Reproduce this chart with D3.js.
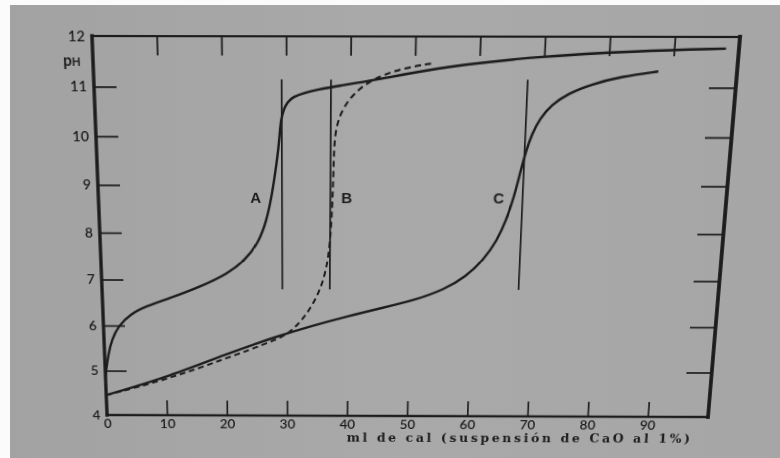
<!DOCTYPE html>
<html>
<head>
<meta charset="utf-8">
<script src="https://cdn.jsdelivr.net/npm/d3@7/dist/d3.min.js"></script>
<style>
  html, body { margin: 0; padding: 0; background: #fbfbfb; }
  body { width: 780px; height: 458px; overflow: hidden; position: relative; }
  #paper { position: absolute; left: 10px; top: 5px; width: 770px; height: 453px;
           background: linear-gradient(90deg, #a2a2a2 0%, #a9a9a9 50%, #a6a6a6 100%); }
  #chart { position: absolute; left: 0; top: 0; transform-origin: 0 0; }
</style>
</head>
<body>
<div id="paper"></div>
<div id="chart"></div>
<script>
// frame constants
const FRAME_WIDTH = 780;
const FRAME_HEIGHT = 458;
const MARGINS = {left: 100, right: 56, top: 36, bottom: 42};
const VIS_WIDTH = FRAME_WIDTH - MARGINS.left - MARGINS.right;
const VIS_HEIGHT = FRAME_HEIGHT - MARGINS.top - MARGINS.bottom;
const INK = "#1c1c1c";

// where the plot corners land in the photo (TL, TR, BR, BL)
const PHOTO_CORNERS = [[92, 36], [740, 37], [708, 417], [107, 415]];

// tick values
const X_TICKS = [0, 10, 20, 30, 40, 50, 60, 70, 80, 90];
const Y_LABELS = [4, 5, 6, 7, 8, 9, 10, 11, 12];
const Y_TICKS = [5, 6, 7, 8, 9, 10, 11];

// curve A (solid)
const A_ML = [0, 0.2, 0.6, 1.3, 2.5, 4.5, 7, 11, 16, 20.5, 23.5, 25.5, 26.8, 27.7, 28.4, 28.8, 29.0, 29.2, 29.6, 30.2, 31.1, 32.7, 35, 38, 43.5, 55, 69.7, 84, 98];
const A_PH = [4.85, 5.05, 5.35, 5.7, 6.0, 6.25, 6.42, 6.6, 6.85, 7.13, 7.45, 7.8, 8.25, 8.8, 9.4, 9.8, 10.1, 10.35, 10.55, 10.7, 10.8, 10.88, 10.95, 11.02, 11.13, 11.42, 11.62, 11.72, 11.77];

// curve B (dashed)
const B_ML = [0, 10, 20, 28, 30, 31.6, 33.2, 34.8, 36.0, 36.8, 37.2, 37.4, 37.5, 37.6, 37.9, 38.5, 39.6, 41.5, 43.8, 47, 50.5, 52.7];
const B_PH = [4.45, 4.8, 5.28, 5.68, 5.82, 6.0, 6.25, 6.6, 7.0, 7.5, 8.2, 8.9, 9.5, 9.9, 10.2, 10.45, 10.72, 10.98, 11.17, 11.33, 11.43, 11.47];

// curve C (solid)
const C_ML = [0, 10, 20, 29, 34, 40, 45.5, 51, 55.5, 59, 61.8, 63.8, 65.2, 66.3, 67.1, 67.8, 68.6, 69.8, 71.5, 74, 77.5, 82.2, 87.8];
const C_PH = [4.45, 4.85, 5.38, 5.8, 6.0, 6.22, 6.4, 6.58, 6.8, 7.08, 7.45, 7.85, 8.3, 8.8, 9.3, 9.7, 10.05, 10.38, 10.65, 10.88, 11.06, 11.22, 11.32];

// equivalence markers
const MARK_NAMES = ["A", "B", "C"];
const MARK_ML = [29.3, 37.0, 67.6];
const MARK_PH = [6.8, 11.15];
const LABEL_ML = [25.1, 39.6, 63.8];
const LABEL_PH = 8.74;

// solve the 8 unknowns of a plane homography (flat rect -> photo quad)
function homography(src, dst) {
	const M = [];
	for (let i = 0; i < 4; i++) {
		const [x, y] = src[i], [u, v] = dst[i];
		M.push([x, y, 1, 0, 0, 0, -x * u, -y * u, u]);
		M.push([0, 0, 0, x, y, 1, -x * v, -y * v, v]);
	}
	for (let c = 0; c < 8; c++) {
		let p = c;
		for (let r = c + 1; r < 8; r++) if (Math.abs(M[r][c]) > Math.abs(M[p][c])) p = r;
		[M[c], M[p]] = [M[p], M[c]];
		for (let r = 0; r < 8; r++) {
			if (r === c) continue;
			const f = M[r][c] / M[c][c];
			for (let k = c; k < 9; k++) M[r][k] -= f * M[c][k];
		}
	}
	return M.map((row, i) => row[8] / row[i]);
}

const X0 = MARGINS.left, X1 = MARGINS.left + VIS_WIDTH;
const Y0 = MARGINS.top, Y1 = MARGINS.top + VIS_HEIGHT;
const h = homography([[X0, Y0], [X1, Y0], [X1, Y1], [X0, Y1]], PHOTO_CORNERS);

const FRAME = d3.select("#chart")
	.style("transform", "matrix3d(" + [h[0], h[3], 0, h[6], h[1], h[4], 0, h[7], 0, 0, 1, 0, h[2], h[5], 0, 1].join(",") + ")")
	.append("svg")
	.attr("width", FRAME_WIDTH)
	.attr("height", FRAME_HEIGHT);

// scales
const xScale = d3.scaleLinear().domain([0, 100]).range([X0, X1]);
const yScale = d3.scaleLinear().domain([4, 12]).range([Y1, Y0]);

// axes with inward ticks
const styleAxis = (g) => {
	g.select(".domain").remove();
	g.selectAll(".tick line").attr("stroke", INK).attr("stroke-width", 1.7);
	g.selectAll("text").attr("fill", INK)
		.attr("font-family", "Lato, 'DejaVu Sans', sans-serif")
		.attr("font-size", 14).attr("font-weight", 600);
};

FRAME.append("g")
	.attr("transform", "translate(" + X0 + ",0)")
	.call(d3.axisLeft(yScale).tickValues(Y_LABELS).tickSize(0).tickPadding(7))
	.call(styleAxis);
FRAME.append("g")
	.attr("transform", "translate(" + X0 + ",0)")
	.call(d3.axisLeft(yScale).tickValues(Y_TICKS).tickSize(-22).tickFormat(""))
	.call(styleAxis);
FRAME.append("g")
	.attr("transform", "translate(" + X1 + ",0)")
	.call(d3.axisRight(yScale).tickValues(Y_TICKS).tickSize(-26).tickFormat(""))
	.call(styleAxis);
FRAME.append("g")
	.attr("transform", "translate(0," + Y1 + ")")
	.call(d3.axisBottom(xScale).tickValues(X_TICKS).tickSize(-16).tickPadding(4))
	.call(styleAxis);
FRAME.append("g")
	.attr("transform", "translate(0," + Y0 + ")")
	.call(d3.axisTop(xScale).tickValues(X_TICKS.slice(1)).tickSize(-18).tickFormat(""))
	.call(styleAxis);

// frame edges (left and right heavier)
const edges = [
	[[0, 12], [100, 12], 2.2],
	[[0, 4], [100, 4], 2.4],
	[[0, 4], [0, 12], 3.4],
	[[100, 4], [100, 12], 3.8]
];
FRAME.selectAll(".edge")
	.data(edges)
	.enter()
	.append("line")
	.attr("x1", (d) => xScale(d[0][0]))
	.attr("y1", (d) => yScale(d[0][1]))
	.attr("x2", (d) => xScale(d[1][0]))
	.attr("y2", (d) => yScale(d[1][1]))
	.attr("stroke", INK)
	.attr("stroke-width", (d) => d[2])
	.attr("stroke-linecap", "square");

// curves
const line = d3.line()
	.x((d) => xScale(d[0]))
	.y((d) => yScale(d[1]))
	.curve(d3.curveBasis);

const zip = (xs, ys) => xs.map((v, i) => [v, ys[i]]);

FRAME.append("path")
	.attr("d", line(zip(C_ML, C_PH)))
	.attr("fill", "none").attr("stroke", INK).attr("stroke-width", 2.4);
FRAME.append("path")
	.attr("d", line(zip(A_ML, A_PH)))
	.attr("fill", "none").attr("stroke", INK).attr("stroke-width", 2.4);
FRAME.append("path")
	.attr("d", line(zip(B_ML, B_PH)))
	.attr("fill", "none").attr("stroke", INK).attr("stroke-width", 2)
	.attr("stroke-dasharray", "6,4");

// equivalence point verticals
FRAME.selectAll(".mark")
	.data(MARK_ML)
	.enter()
	.append("line")
	.attr("x1", (d) => xScale(d))
	.attr("x2", (d) => xScale(d))
	.attr("y1", yScale(MARK_PH[0]))
	.attr("y2", yScale(MARK_PH[1]))
	.attr("stroke", INK)
	.attr("stroke-width", 1.7);

// curve letters
FRAME.selectAll(".letter")
	.data(MARK_NAMES)
	.enter()
	.append("text")
	.attr("x", (d, i) => xScale(LABEL_ML[i]))
	.attr("y", yScale(LABEL_PH))
	.attr("dy", "0.36em")
	.attr("text-anchor", "middle")
	.attr("font-family", "'Liberation Sans', Arial, sans-serif")
	.attr("font-weight", "bold")
	.attr("font-size", 15)
	.attr("fill", INK)
	.text((d) => d);

// y axis name
const ph = FRAME.append("text")
	.attr("x", X0 - 29)
	.attr("y", yScale(11.42))
	.attr("font-family", "Lato, 'DejaVu Sans', sans-serif")
	.attr("font-weight", "bold")
	.attr("font-size", 15)
	.attr("fill", INK);
ph.append("tspan").text("p");
ph.append("tspan").attr("font-size", 11).text("H");

// x axis name
FRAME.append("text")
	.attr("x", xScale(40))
	.attr("y", Y1 + 28)
	.attr("textLength", xScale(97.3) - xScale(40))
	.attr("lengthAdjust", "spacing")
	.attr("font-family", "'DejaVu Serif', serif")
	.attr("font-weight", "bold")
	.attr("font-size", 13)
	.attr("fill", INK)
	.text("ml de cal (suspensión de CaO al 1%)");
</script>
</body>
</html>
